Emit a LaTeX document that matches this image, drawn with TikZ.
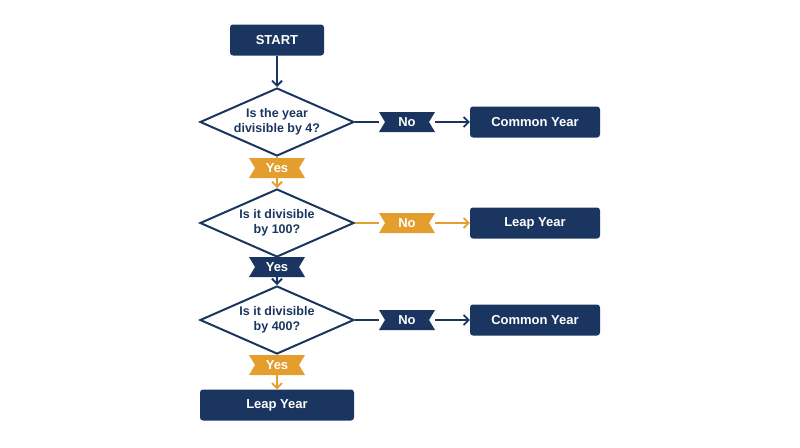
\documentclass[tikz,border=0pt]{standalone}
\usepackage{fontspec}
\setmainfont{Liberation Sans}
\usetikzlibrary{shapes.geometric,arrows.meta}
\definecolor{navy}{HTML}{1B3561}
\definecolor{gold}{HTML}{E39E2E}
\begin{document}
\begin{tikzpicture}[x=1pt,y=-1pt,
  box/.style={draw=none,fill=navy,rounded corners=3pt,text=white,font=\bfseries\fontsize{13}{15}\selectfont,minimum height=31pt,inner sep=0pt},
  dia/.style={diamond,draw=navy,line width=2pt,fill=white,aspect=2.2,minimum width=154pt,minimum height=68pt,inner sep=0pt,align=center,text=navy,font=\bfseries\fontsize{12.5}{15}\selectfont},
  lbl/.style={rectangle,minimum width=56pt,minimum height=20pt,inner sep=0pt,text=white,font=\bfseries\fontsize{13}{15}\selectfont},
  arr/.style={line width=1.8pt,-{Straight Barb[length=5pt,width=10pt]}},
  ln/.style={line width=1.8pt}]
\useasboundingbox (0,0) rectangle (800,447);
\newcommand\rib[4]{\begin{scope}[shift={(#2)}]\fill[#4] (-28,-10)--(28,-10)--(22,0)--(28,10)--(-28,10)--(-22,0)--cycle;\end{scope}\node[lbl] (#1) at (#2) {#3};}
\node[box,minimum width=94pt] (start) at (277,40) {START};
\node[dia] (d1) at (277,122) {Is the year\\divisible by 4?};
\node[dia] (d2) at (277,223) {Is it divisible\\by 100?};
\node[dia] (d3) at (277,320) {Is it divisible\\by 400?};
\node[box,minimum width=130pt] (c1) at (535,122) {Common Year};
\node[box,minimum width=130pt] (l1) at (535,223) {Leap Year};
\node[box,minimum width=130pt] (c2) at (535,320) {Common Year};
\node[box,minimum width=154pt] (l2) at (277,405) {Leap Year};
\rib{n1}{407,122}{No}{navy}
\rib{n2}{407,223}{No}{gold}
\rib{n3}{407,320}{No}{navy}
\rib{y1}{277,168}{Yes}{gold}
\rib{y2}{277,267}{Yes}{navy}
\rib{y3}{277,365}{Yes}{gold}
\draw[arr,navy] (start) -- (d1);
\draw[ln,navy] (d1.east) -- (n1.west);
\draw[arr,navy] (n1.east) -- (c1.west);
\draw[ln,gold] (d1.south) -- (y1.north);
\draw[arr,gold] (y1.south) -- (d2.north);
\draw[ln,gold] (d2.east) -- (n2.west);
\draw[arr,gold] (n2.east) -- (l1.west);
\draw[ln,navy] (d2.south) -- (y2.north);
\draw[arr,navy] (y2.south) -- (d3.north);
\draw[ln,navy] (d3.east) -- (n3.west);
\draw[arr,navy] (n3.east) -- (c2.west);
\draw[ln,gold] (d3.south) -- (y3.north);
\draw[arr,gold] (y3.south) -- (l2.north);
\end{tikzpicture}
\end{document}
